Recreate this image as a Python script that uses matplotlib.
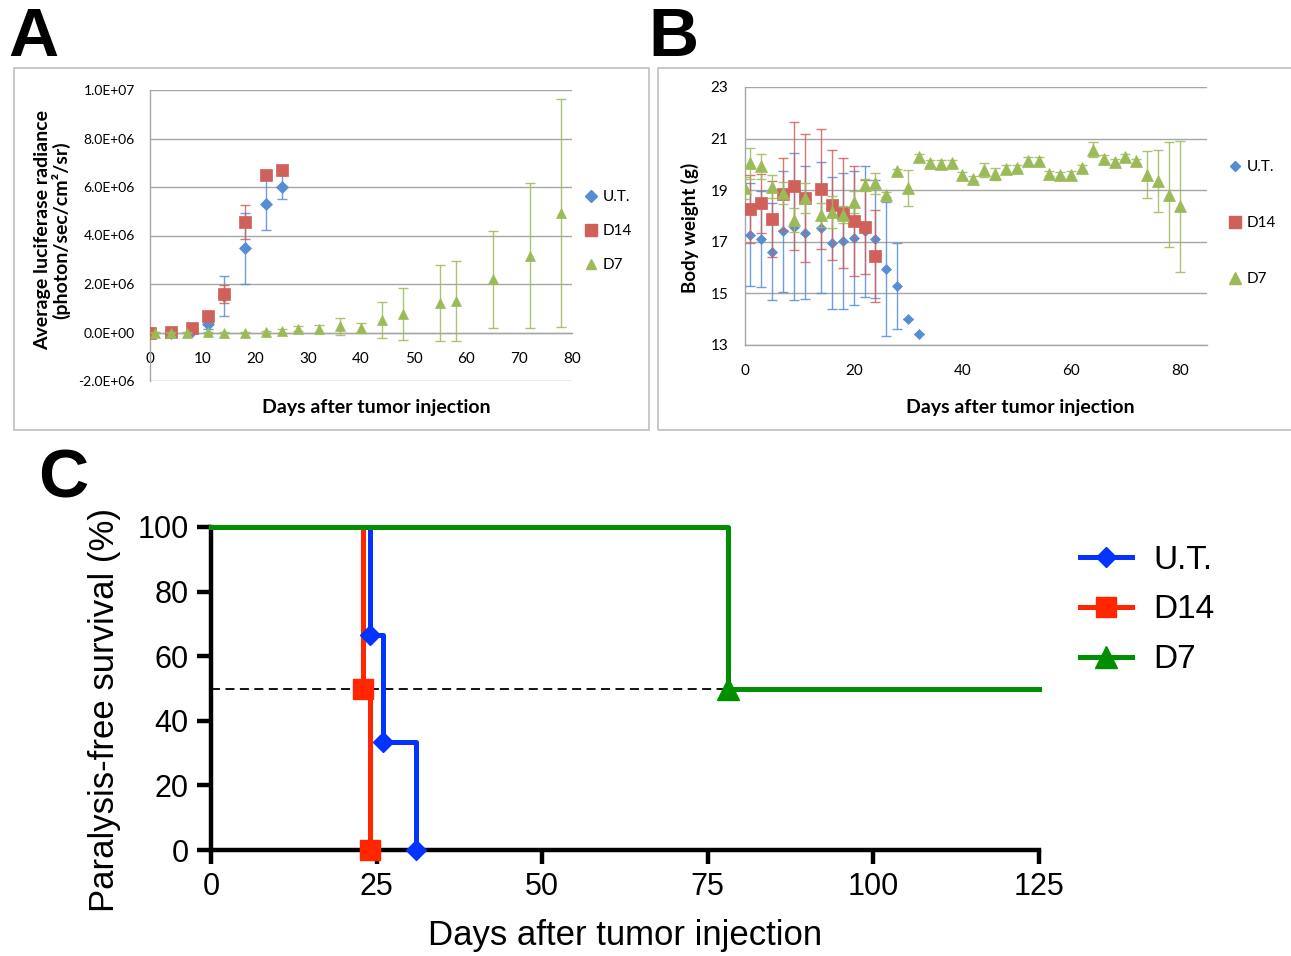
import matplotlib

matplotlib.use("Agg")
import matplotlib.pyplot as plt  # noqa: E402
import numpy as np  # noqa: E402
from matplotlib.lines import Line2D  # noqa: E402
from matplotlib.patches import Rectangle  # noqa: E402
from matplotlib.ticker import FuncFormatter  # noqa: E402

# ---- panel A : luciferase radiance ----
ut_a_days = [0, 4, 8, 11, 14, 18, 22, 25]
ut_a = [0.0, 0.0, 0.05e6, 0.35e6, 1.5e6, 3.48e6, 5.29e6, 6.0e6]
ut_a_err = [0.02e6, 0.02e6, 0.05e6, 0.2e6, 0.84e6, 1.46e6, 1.06e6, 0.5e6]

d14_a_days = [0, 4, 8, 11, 14, 18, 22, 25]
d14_a = [0.0, 0.02e6, 0.19e6, 0.7e6, 1.58e6, 4.57e6, 6.48e6, 6.72e6]
d14_a_err = [0.02e6, 0.02e6, 0.05e6, 0.1e6, 0.36e6, 0.7e6, 0.1e6, 0.1e6]

d7_a_days = [1, 4, 7, 11, 14, 18, 22, 25, 28, 32, 36, 40, 44, 48, 55, 58, 65, 72, 78]
d7_a = [0.0, 0.0, 0.0, 0.01e6, 0.0, 0.0, 0.02e6, 0.05e6, 0.15e6, 0.15e6, 0.25e6,
        0.18e6, 0.52e6, 0.76e6, 1.22e6, 1.3e6, 2.19e6, 3.17e6, 4.94e6]
d7_a_err = [0.02e6, 0.02e6, 0.02e6, 0.03e6, 0.02e6, 0.02e6, 0.05e6, 0.08e6, 0.1e6,
            0.15e6, 0.34e6, 0.2e6, 0.73e6, 1.07e6, 1.56e6, 1.63e6, 2.0e6, 3.0e6, 4.7e6]

# ---- panel B : body weight ----
ut_b_days = [1, 3, 5, 7, 9, 11, 14, 16, 18, 20, 22, 24, 26, 28, 30, 32]
ut_b = [17.28, 17.1, 16.62, 17.4, 17.59, 17.36, 17.55, 16.96, 17.03, 17.15, 17.4,
        17.12, 15.94, 15.29, 14.02, 13.42]
ut_b_err = [1.98, 1.86, 1.89, 2.33, 2.85, 2.57, 2.54, 2.57, 2.63, 2.6, 2.55, 2.28,
            2.6, 1.67, 0.0, 0.0]

d14_b_days = [1, 3, 5, 7, 9, 11, 14, 16, 18, 20, 22, 24]
d14_b = [18.27, 18.5, 17.87, 18.85, 19.17, 18.68, 19.06, 18.43, 18.12, 17.8, 17.58, 16.45]
d14_b_err = [1.3, 1.14, 1.47, 1.38, 2.47, 2.48, 2.33, 2.12, 2.12, 2.12, 1.82, 1.77]

d7_b_days = [0, 1, 3, 5, 7, 9, 11, 14, 16, 18, 20, 22, 24, 26, 28, 30, 32, 34, 36,
             38, 40, 42, 44, 46, 48, 50, 52, 54, 56, 58, 60, 62, 64, 66, 68, 70, 72,
             74, 76, 78, 80]
d7_b = [19.08, 20.05, 19.92, 19.14, 18.89, 17.85, 18.7, 18.05, 18.15, 18.05, 18.54,
        19.21, 19.27, 18.82, 19.73, 19.08, 20.28, 20.05, 20.02, 20.05, 19.6, 19.44,
        19.79, 19.64, 19.82, 19.86, 20.14, 20.15, 19.64, 19.6, 19.6, 19.86, 20.57,
        20.22, 20.1, 20.28, 20.12, 19.6, 19.34, 18.82, 18.37]
d7_b_err = [0.42, 0.6, 0.5, 0.45, 0.43, 0.46, 0.58, 0.47, 0.63, 0.33, 0.42, 0.24, 0.4,
            0.1, 0.1, 0.7, 0.12, 0.12, 0.15, 0.12, 0.12, 0.1, 0.28, 0.23, 0.15, 0.12,
            0.15, 0.12, 0.1, 0.1, 0.15, 0.12, 0.28, 0.15, 0.12, 0.12, 0.1, 0.9, 1.2,
            2.03, 2.54]

# ---- panel C : paralysis-free survival (step curves) ----
ut_c_days = [0, 24, 26, 31]
ut_c = [100, 66.67, 33.33, 0]
d14_c_days = [0, 23, 24]
d14_c = [100, 50, 0]
d7_c_days = [0, 78, 125]
d7_c = [100, 50, 50]
# points where a marker is drawn (events)
ut_c_marks = (ut_c_days[1:], ut_c[1:])
d14_c_marks = (d14_c_days[1:], d14_c[1:])
d7_c_marks = (d7_c_days[1:2], d7_c[1:2])
median_end = 78

labels = ["U.T.", "D14", "D7"]

W, H = 1291, 956
XL_BLUE, XL_RED, XL_GREEN = "#558ED5", "#D0605A", "#9BBB59"
PR_BLUE, PR_RED, PR_GREEN = "#0433FF", "#FF2600", "#008F00"
GRID = "#A6A6A6"
XL_FONT = "Lato"
PR_FONT = "Liberation Sans"


def box(l, t, r, b):
    """pixel box (left, top, right, bottom) -> figure fraction rect"""
    return [l / W, 1 - b / H, (r - l) / W, (b - t) / H]


def ftext(x, y, s, **kw):
    fig.text(x / W, 1 - y / H, s, **kw)


fig = plt.figure(figsize=(W / 100, H / 100), dpi=100)

# frames around panels A and B
for l, t, r, b in [(14, 68, 649, 430), (658, 68, 1293, 430)]:
    fig.patches.append(Rectangle((l / W, 1 - b / H), (r - l) / W, (b - t) / H,
                                 transform=fig.transFigure, fill=False,
                                 edgecolor="#BFBFBF", lw=1.2))


def excel_series(ax, days, vals, err, color, marker, ms, z):
    ax.errorbar(days, vals, yerr=err, fmt="none", ecolor=color, elinewidth=1.0,
                capsize=3.3, capthick=1.0, alpha=0.85, zorder=z)
    ax.plot(days, vals, ls="none", marker=marker, ms=ms, color=color,
            mec=color, mew=0.5, zorder=z + 0.5)


def excel_axes(ax):
    for s in ["top", "right"]:
        ax.spines[s].set_visible(False)
    for s in ["left", "bottom"]:
        ax.spines[s].set_color(GRID)
        ax.spines[s].set_linewidth(1.0)
    ax.grid(axis="y", color=GRID, lw=1.0)
    ax.set_axisbelow(True)
    for lab in ax.get_xticklabels() + ax.get_yticklabels():
        lab.set_fontfamily(XL_FONT)


def excel_legend(ax, sizes, x, y, spacing):
    handles = [Line2D([], [], ls="none", marker=m, ms=s, color=c)
               for m, s, c in zip(["D", "s", "^"], sizes, [XL_BLUE, XL_RED, XL_GREEN])]
    ax.legend(handles=handles, labels=labels, loc="center left",
              bbox_to_anchor=(x / W, 1 - y / H), bbox_transform=fig.transFigure,
              frameon=False, handlelength=0.6, handletextpad=0.5,
              labelspacing=spacing, borderpad=0, borderaxespad=0,
              prop={"family": XL_FONT, "size": 11})


# ---------------- A ----------------
ax_a = fig.add_axes(box(150, 90, 572, 381))
excel_series(ax_a, ut_a_days, ut_a, ut_a_err, XL_BLUE, "D", 6.6, 3)
excel_series(ax_a, d14_a_days, d14_a, d14_a_err, XL_RED, "s", 8.4, 4)
excel_series(ax_a, d7_a_days, d7_a, d7_a_err, XL_GREEN, "^", 7.8, 5)
ax_a.set_xlim(0, 80)
ax_a.set_ylim(-2e6, 1e7)
ax_a.set_xticks(np.arange(0, 81, 10))
ax_a.set_yticks(np.arange(-2e6, 1.01e7, 2e6))
ax_a.yaxis.set_major_formatter(FuncFormatter(lambda v, p: f"{v:.1E}"))
ax_a.spines["bottom"].set_position(("data", 0))
ax_a.tick_params(axis="x", length=0, pad=14, labelsize=11)
ax_a.tick_params(axis="y", length=0, pad=11, labelsize=10)
excel_axes(ax_a)
excel_legend(ax_a, [6.6, 8.4, 7.8], 586, 231, 1.3)
ftext(376, 407, "Days after tumor injection", ha="center", va="center",
      fontsize=14, fontweight="bold", family=XL_FONT)
ftext(52, 230, "Average luciferase radiance\n(photon/sec/cm\u00b2/sr)", ha="center",
      va="center", rotation=90, fontsize=14, fontweight="bold", family=XL_FONT,
      linespacing=1.0)

# ---------------- B ----------------
ax_b = fig.add_axes(box(745, 87, 1207, 345))
excel_series(ax_b, ut_b_days, ut_b, ut_b_err, XL_BLUE, "D", 5.0, 3)
excel_series(ax_b, d14_b_days, d14_b, d14_b_err, XL_RED, "s", 8.0, 4)
excel_series(ax_b, d7_b_days, d7_b, d7_b_err, XL_GREEN, "^", 8.0, 5)
ax_b.set_xlim(0, 85)
ax_b.set_ylim(13, 23)
ax_b.set_xticks(np.arange(0, 81, 20))
ax_b.set_yticks(np.arange(13, 23.1, 2))
ax_b.tick_params(axis="x", length=0, pad=14, labelsize=11)
ax_b.tick_params(axis="y", length=0, pad=12, labelsize=11)
excel_axes(ax_b)
excel_legend(ax_b, [5.0, 8.0, 8.0], 1230, 223, 2.75)
ftext(1020, 407, "Days after tumor injection", ha="center", va="center",
      fontsize=14, fontweight="bold", family=XL_FONT)
ftext(690, 228, "Body weight (g)", ha="center", va="center", rotation=90,
      fontsize=13.5, fontweight="bold", family=XL_FONT)

# ---------------- C ----------------
ax_c = fig.add_axes(box(211, 527, 1039, 850))
ax_c.plot([0, median_end], [50, 50], color="black", lw=1.3, ls=(0, (5, 3)), zorder=1)
for days, surv, marks, color, marker, ms in [
    (ut_c_days, ut_c, ut_c_marks, PR_BLUE, "D", 10),
    (d14_c_days, d14_c, d14_c_marks, PR_RED, "s", 15),
    (d7_c_days, d7_c, d7_c_marks, PR_GREEN, "^", 16),
]:
    ax_c.step(days, surv, where="post", color=color, lw=3.6, clip_on=False, zorder=3)
    ax_c.plot(marks[0], marks[1], ls="none", marker=marker, ms=ms, color=color,
              clip_on=False, zorder=4)
ax_c.set_xlim(0, 125)
ax_c.set_ylim(0, 100)
ax_c.set_xticks(np.arange(0, 126, 25))
ax_c.set_yticks(np.arange(0, 101, 20))
for s in ["top", "right"]:
    ax_c.spines[s].set_visible(False)
for s in ["left", "bottom"]:
    ax_c.spines[s].set_linewidth(3.2)
    ax_c.spines[s].set_zorder(2)
ax_c.tick_params(width=3.2, length=10, labelsize=22, pad=6)
for lab in ax_c.get_xticklabels() + ax_c.get_yticklabels():
    lab.set_fontfamily(PR_FONT)
ax_c.legend(handles=[Line2D([], [], color=c, lw=3.6, marker=m, ms=s)
                     for m, s, c in [("D", 10, PR_BLUE), ("s", 15, PR_RED),
                                     ("^", 16, PR_GREEN)]],
            labels=labels, loc="center left", bbox_to_anchor=(1080 / W, 1 - 610 / H),
            bbox_transform=fig.transFigure, frameon=False, handlelength=1.55,
            handletextpad=0.65, labelspacing=0.56, borderpad=0, borderaxespad=0,
            prop={"family": PR_FONT, "size": 24})
ftext(625, 935, "Days after tumor injection", ha="center", va="center",
      fontsize=25, family=PR_FONT)
ftext(105, 710, "Paralysis-free survival (%)", ha="center", va="center",
      rotation=90, fontsize=25, family=PR_FONT)

# panel letters
for x, y, s in [(33, 38, "A"), (673, 38, "B"), (63, 480, "C")]:
    ftext(x, y, s, ha="center", va="center", fontsize=50, fontweight="bold",
          family=PR_FONT)

fig.savefig("out.png", dpi=100)
